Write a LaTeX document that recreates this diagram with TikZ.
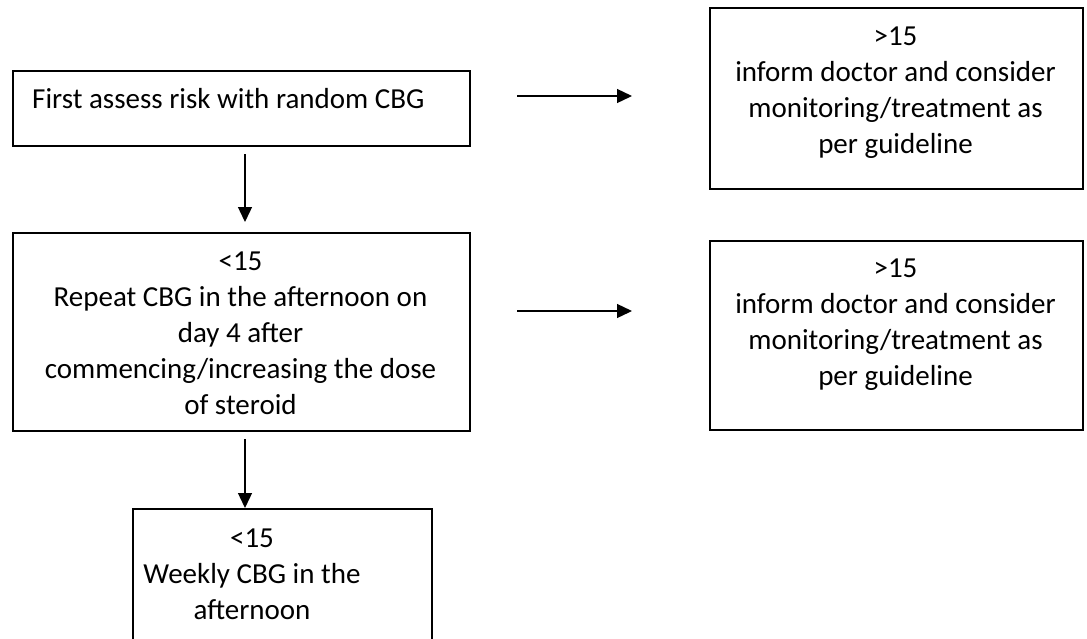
\documentclass[tikz,border=0pt]{standalone}
\usepackage{fontspec}
\setmainfont{Carlito}
\usetikzlibrary{arrows.meta}
\usetikzlibrary{calc}

\begin{document}
\begin{tikzpicture}[x=1pt, y=-1pt,
    box/.style={draw, line width=2pt, inner sep=0, anchor=north west},
    txt/.style={align=center, font=\fontsize{29}{36}\selectfont, inner sep=0},
    flow/.style={-{Triangle[length=15pt, width=14pt]}, line width=1.3pt}]
        \useasboundingbox (0,0) rectangle (1087,638);

        % frames
        \node [box, minimum width=457pt, minimum height=75pt] (risk) at (12,70) {};
        \node [box, minimum width=373pt, minimum height=181pt] (high1) at (709,7) {};
        \node [box, minimum width=457pt, minimum height=198pt] (repeat) at (12,232) {};
        \node [box, minimum width=373pt, minimum height=189pt] (high2) at (709,240) {};
        \node [box, minimum width=299pt, minimum height=170pt] (weekly) at (132,508) {};

        % texts
        \node [txt, anchor=base west] (risktext) at (32,108) {First assess risk with random CBG};
        \node [txt] (high1text) at (895.5,92.8) {>15\\inform doctor and consider\\monitoring/treatment as\\per guideline};
        \node [txt] (repeattext) at (240.5,332.8) {<15\\Repeat CBG in the afternoon on\\day 4 after\\commencing/increasing the dose\\of steroid};
        \node [txt] (high2text) at (895.5,324.8) {>15\\inform doctor and consider\\monitoring/treatment as\\per guideline};
        \node [txt] (weeklytext) at (252,573.8) {<15\\Weekly CBG in the\\afternoon};

        % arrows
        \draw [flow, shorten <=7pt, shorten >=10pt] ([xshift=3.5pt]risk.south) -- ([xshift=3.5pt]repeat.north);
        \draw [flow, shorten <=7pt] ([xshift=3.5pt]repeat.south) -- ([xshift=3.5pt]repeat.south |- weekly.north);
        \draw [flow, shorten <=46pt, shorten >=77pt] ([yshift=12.5pt]risk.east) -- ([yshift=12.5pt]risk.east -| high1.west);
        \draw [flow, shorten <=46pt, shorten >=77pt] ([yshift=21pt]repeat.east) -- ([yshift=21pt]repeat.east -| high2.west);
      \end{tikzpicture}
\end{document}
